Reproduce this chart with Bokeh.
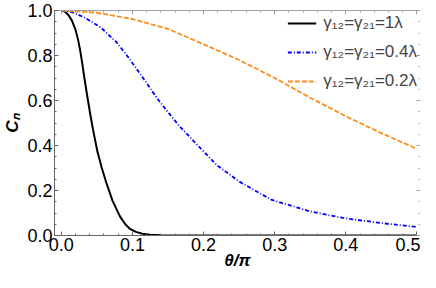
from bokeh.plotting import figure
from bokeh.models import (Range1d, FixedTicker, LinearAxis, Legend, LegendItem,
                          PrintfTickFormatter, CustomLabelingPolicy)
from bokeh.embed import file_html
from bokeh.resources import INLINE

# ---- data ----
theta_black = [0.0, 0.005, 0.01, 0.015, 0.02, 0.024, 0.027, 0.030, 0.0325, 0.036,
               0.0407, 0.045, 0.0507, 0.057, 0.064, 0.072, 0.0825, 0.09, 0.096,
               0.105, 0.114, 0.125, 0.14, 0.16, 0.2, 0.3, 0.4, 0.5]
c_black = [1.0, 0.995, 0.98, 0.955, 0.915, 0.865, 0.815, 0.755, 0.70, 0.63,
           0.54, 0.465, 0.375, 0.30, 0.228, 0.155, 0.085, 0.05, 0.031,
           0.016, 0.008, 0.003, 0.001, 0.0, 0.0, 0.0, 0.0, 0.0]

theta_blue = [0.0, 0.015, 0.0325, 0.055, 0.078, 0.096, 0.115, 0.137, 0.165, 0.192,
              0.219, 0.25, 0.296, 0.35, 0.396, 0.45, 0.5]
c_blue = [1.0, 0.993, 0.969, 0.926, 0.858, 0.785, 0.70, 0.60, 0.49, 0.40,
          0.312, 0.24, 0.158, 0.107, 0.078, 0.055, 0.038]

theta_orange = [0.0, 0.05, 0.1, 0.15, 0.2, 0.25, 0.3, 0.35, 0.4, 0.45, 0.5]
c_orange = [1.0, 0.99, 0.962, 0.918, 0.85, 0.78, 0.70, 0.612, 0.53, 0.455, 0.385]

labels = ["γ₁₂=γ₂₁=1λ", "γ₁₂=γ₂₁=0.4λ", "γ₁₂=γ₂₁=0.2λ"]
x_ticks = [0.0, 0.1, 0.2, 0.3, 0.4, 0.5]
x_minor = [round(0.02 * i, 2) for i in range(0, 26)]
y_ticks = [0.0, 0.2, 0.4, 0.6, 0.8, 1.0]
y_minor = [round(0.05 * i, 2) for i in range(0, 21)]

FONT = "Liberation Sans"
AX_DARK = "#666666"
AX_LIGHT = "#A0A0A0"

p = figure(width=420, height=272, output_backend="svg", toolbar_location=None,
           x_range=Range1d(-0.0095, 0.505), y_range=Range1d(0.0, 1.0),
           min_border_left=44, min_border_right=0, min_border_top=10, min_border_bottom=0)
p.outline_line_color = None
p.xgrid.visible = False
p.ygrid.visible = False
p.background_fill_color = "white"

r1 = p.line(theta_black, c_black, line_color="black", line_width=2)
r2 = p.line(theta_blue, c_blue, line_color="#0000FF", line_width=1.8, line_dash="4 2 1 2")
r3 = p.line(theta_orange, c_orange, line_color="#FF8C1A", line_width=1.8, line_dash="5 2")

no_labels = CustomLabelingPolicy(code="return new Set()")

def style_axis(ax, color, show_labels):
    ax.axis_line_color = color
    ax.major_tick_line_color = color
    ax.minor_tick_line_color = color
    ax.major_tick_in = 4
    ax.major_tick_out = 0
    ax.minor_tick_in = 2
    ax.minor_tick_out = 0
    ax.major_label_text_font = FONT
    ax.major_label_text_color = "black"
    if show_labels:
        ax.major_label_text_font_size = "18px"
        ax.major_label_standoff = 2
        ax.formatter = PrintfTickFormatter(format="%.1f")
    else:
        ax.major_label_text_font_size = "0px"
        ax.major_label_standoff = 0
        ax.axis_label_standoff = 0
        ax.major_label_policy = no_labels

xa = p.xaxis[0]
ya = p.yaxis[0]
xa.ticker = FixedTicker(ticks=x_ticks, minor_ticks=x_minor)
ya.ticker = FixedTicker(ticks=y_ticks, minor_ticks=y_minor)
style_axis(xa, AX_DARK, True)
style_axis(ya, AX_DARK, True)
xa.axis_label = "θ/π"
ya.axis_label = "Cₙ"
for ax in (xa, ya):
    ax.axis_label_text_font = FONT
    ax.axis_label_text_font_style = "bold italic"
    ax.axis_label_text_font_size = "17px"
    ax.axis_label_text_color = "black"
xa.axis_label_standoff = -3
ya.axis_label_standoff = 2

top = LinearAxis(ticker=FixedTicker(ticks=x_ticks, minor_ticks=x_minor))
right = LinearAxis(ticker=FixedTicker(ticks=y_ticks, minor_ticks=y_minor))
style_axis(top, AX_LIGHT, False)
style_axis(right, AX_LIGHT, False)
p.add_layout(top, "above")
p.add_layout(right, "right")

legend = Legend(items=[LegendItem(label=labels[0], renderers=[r1]),
                       LegendItem(label=labels[1], renderers=[r2]),
                       LegendItem(label=labels[2], renderers=[r3])],
                location="top_right")
legend.background_fill_alpha = 0
legend.border_line_color = None
legend.label_text_font = FONT
legend.label_text_font_size = "17px"
legend.glyph_width = 29
legend.glyph_height = 20
legend.label_height = 20
legend.label_standoff = 7
legend.spacing = 9
legend.padding = 2
legend.margin = 3
p.add_layout(legend)

open("out.html", "w").write(file_html(p, INLINE))
